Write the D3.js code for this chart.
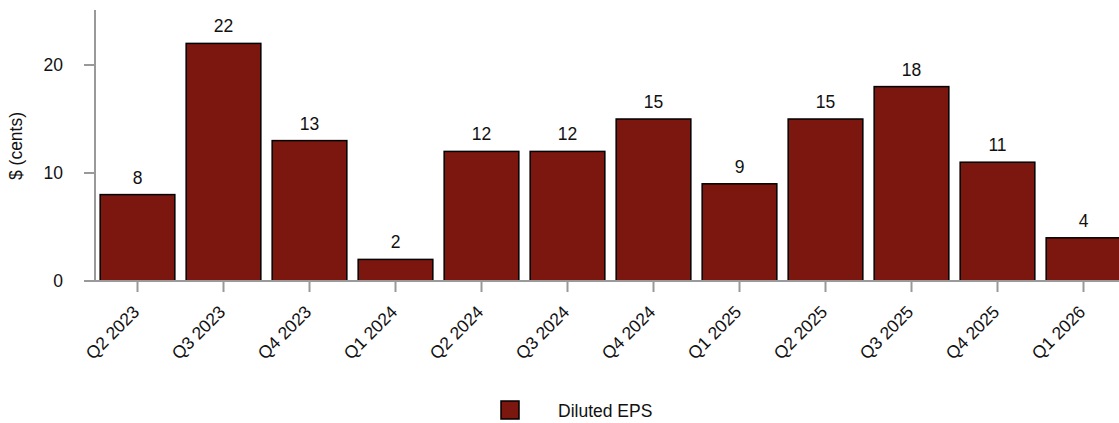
<!DOCTYPE html>
<html><head><meta charset="utf-8">
<script src="https://cdn.jsdelivr.net/npm/d3@7"></script>
<style>body{margin:0;background:#fff}svg{display:block;font-family:"Liberation Sans",Arial,Helvetica,sans-serif}</style>
</head><body>
<svg id="c" width="1119" height="423"></svg>
<script>
const categories = ["Q2 2023","Q3 2023","Q4 2023","Q1 2024","Q2 2024","Q3 2024","Q4 2024","Q1 2025","Q2 2025","Q3 2025","Q4 2025","Q1 2026"];
const eps = [8,22,13,2,12,12,15,9,15,18,11,4];
const yTicks = [0,10,20];
const seriesName = "Diluted EPS";

const svg = d3.select("#c");
const fill = "#7c1710";
const axisColor = "#999";
const fs = 17.5;

const x = d3.scaleBand().domain(categories).range([94,1126]).paddingInner(0.12).paddingOuter(0.06);
const y = d3.scaleLinear().domain([0,10]).range([281,173]);

// y axis
svg.append("line").attr("x1",95).attr("x2",95).attr("y1",10).attr("y2",y(0)+1)
  .attr("stroke",axisColor).attr("stroke-width",2);
const yg = svg.append("g");
yTicks.forEach(t=>{
  yg.append("line").attr("x1",84).attr("x2",95).attr("y1",y(t)).attr("y2",y(t)).attr("stroke",axisColor).attr("stroke-width",2);
  yg.append("text").attr("x",63).attr("y",y(t)).attr("dy","0.35em").attr("text-anchor","end")
    .attr("font-size",fs).attr("fill","#111").text(t);
});
svg.append("text").attr("transform","translate(22,146) rotate(-90)").attr("text-anchor","middle")
  .attr("font-size",fs).attr("fill","#111").text("$ (cents)");

// bars
svg.selectAll("rect.bar").data(eps).join("rect").attr("class","bar")
  .attr("x",(d,i)=>x(categories[i])+1).attr("width",x.bandwidth()-1)
  .attr("y",d=>y(d)).attr("height",d=>y(0)-y(d))
  .attr("fill",fill).attr("stroke","#000").attr("stroke-width",1.5);

svg.selectAll("text.val").data(eps).join("text").attr("class","val")
  .attr("x",(d,i)=>x(categories[i])+x.bandwidth()/2+0.5).attr("y",d=>y(d)-11)
  .attr("text-anchor","middle").attr("font-size",fs).attr("fill","#111").text(d=>d);

// x axis
svg.append("line").attr("x1",84).attr("x2",1119).attr("y1",y(0)).attr("y2",y(0)).attr("stroke",axisColor).attr("stroke-width",2);
categories.forEach(c=>{
  const cx = x(c)+x.bandwidth()/2+0.5;
  svg.append("line").attr("x1",cx).attr("x2",cx).attr("y1",y(0)).attr("y2",y(0)+11).attr("stroke",axisColor).attr("stroke-width",2);
  svg.append("text").attr("transform",`translate(${cx+3},${y(0)+32}) rotate(-45)`)
    .attr("text-anchor","end").attr("font-size",fs).attr("fill","#111").text(c);
});

// legend
svg.append("rect").attr("x",501).attr("y",401).attr("width",18).attr("height",18)
  .attr("fill",fill).attr("stroke","#000").attr("stroke-width",1.5);
svg.append("text").attr("x",558).attr("y",417).attr("font-size",fs).attr("fill","#111").text(seriesName);
</script>
</body></html>
